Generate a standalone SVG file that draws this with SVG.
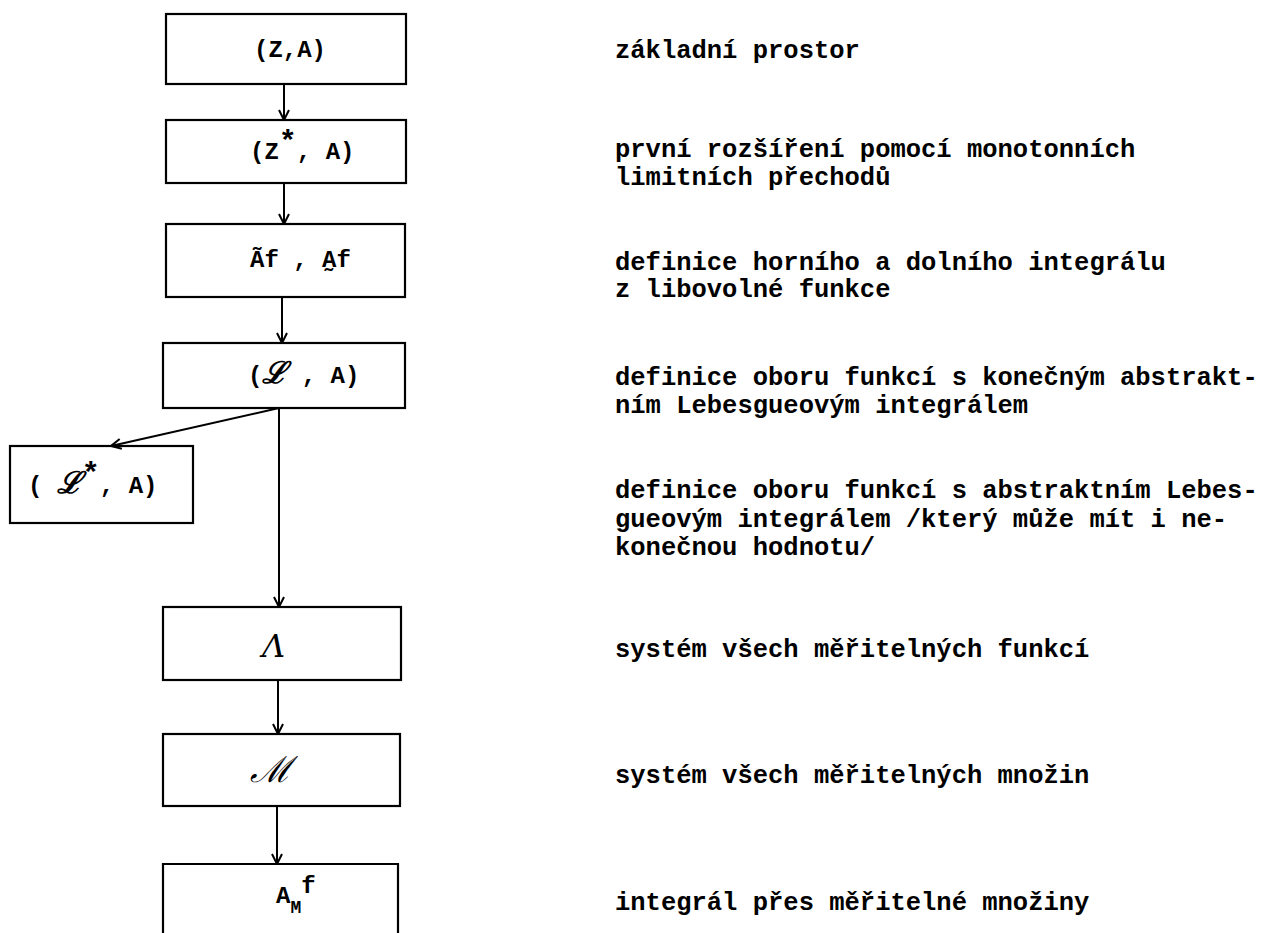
<svg xmlns="http://www.w3.org/2000/svg" width="1278" height="933" viewBox="0 0 1278 933">
<defs>
<marker id="arr" viewBox="0 0 12 12" refX="11" refY="6" markerWidth="12" markerHeight="12" markerUnits="userSpaceOnUse" orient="auto">
<path d="M1,1 L11,6 L1,11" fill="none" stroke="#000" stroke-width="2"/>
</marker>
<style>
.box{fill:none;stroke:#000;stroke-width:2.2}
.t{font-family:"Liberation Mono",monospace;font-weight:bold;font-size:25.5px;fill:#000}
.b{font-family:"Liberation Mono",monospace;font-weight:bold;font-size:24px;fill:#000}
.s{font-family:"DejaVu Serif",serif;font-style:italic;fill:#000}
.c{fill:none;stroke:#000;stroke-width:2;marker-end:url(#arr)}
</style>
</defs>
<rect width="1278" height="933" fill="#fff"/>
<g id="connectors">
<line class="c" x1="284" y1="84" x2="284" y2="120"/>
<line class="c" x1="284" y1="183" x2="284" y2="224"/>
<line class="c" x1="282" y1="297" x2="282" y2="343"/>
<line class="c" x1="279" y1="408" x2="279" y2="607"/>
<line class="c" x1="279" y1="408" x2="111" y2="446"/>
<line class="c" x1="278" y1="680" x2="278" y2="734"/>
<line class="c" x1="277" y1="806" x2="277" y2="864"/>
</g>
<g id="n1"><rect class="box" x="166" y="14" width="240" height="70"/><text class="b" x="254" y="57">(Z,A)</text></g>
<g id="n2"><rect class="box" x="166" y="120" width="240" height="63"/><text class="b" x="250" y="159">(Z<tspan font-size="30" dy="-8">*</tspan><tspan dy="8">, A)</tspan></text></g>
<g id="n3"><rect class="box" x="166" y="224" width="239" height="73"/>
<text class="b" x="250" y="267">Ãf , A̰f</text></g>
<g id="n4"><rect class="box" x="163" y="343" width="242" height="65"/><text class="b" x="248" y="383">(<tspan class="s" font-size="30">ℒ</tspan> , A)</text></g>
<g id="n5"><rect class="box" x="10" y="446" width="183" height="77"/><text class="b" x="28" y="493">( <tspan class="s" font-size="30">ℒ</tspan><tspan font-size="30" dy="-10">*</tspan><tspan dy="10">, A)</tspan></text></g>
<g id="n6"><rect class="box" x="163" y="607" width="238" height="73"/><text x="262" y="657" font-family="DejaVu Serif,serif" font-size="32" font-style="italic">Λ</text></g>
<g id="n7"><rect class="box" x="163" y="734" width="237" height="72"/><text class="s" x="250" y="782" font-size="36">ℳ</text></g>
<g id="n8"><path class="box" d="M163,940 V864 H398 V940"/><text class="b" x="276" y="903">A<tspan dy="10" font-size="18">M</tspan><tspan dy="-20">f</tspan></text></g>
<g id="labels">
<text class="t" x="615" y="58">základní prostor</text>
<text class="t" x="615" y="157">první rozšíření pomocí monotonních</text>
<text class="t" x="615" y="185">limitních přechodů</text>
<text class="t" x="615" y="270">definice horního a dolního integrálu</text>
<text class="t" x="615" y="297">z libovolné funkce</text>
<text class="t" x="615" y="385">definice oboru funkcí s konečným abstrakt-</text>
<text class="t" x="615" y="413">ním Lebesgueovým integrálem</text>
<text class="t" x="615" y="498">definice oboru funkcí s abstraktním Lebes-</text>
<text class="t" x="615" y="527">gueovým integrálem /který může mít i ne-</text>
<text class="t" x="615" y="555">konečnou hodnotu/</text>
<text class="t" x="615" y="657">systém všech měřitelných funkcí</text>
<text class="t" x="615" y="783">systém všech měřitelných množin</text>
<text class="t" x="615" y="910">integrál přes měřitelné množiny</text>
</g>
</svg>
